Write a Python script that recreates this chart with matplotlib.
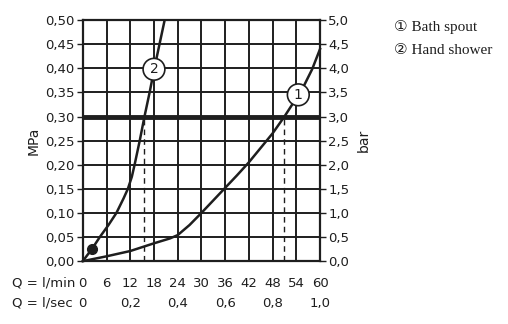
import numpy as np
import matplotlib
matplotlib.use("Agg")
import matplotlib.pyplot as plt

# flow rate (l/min) vs pressure (MPa)
bath_q = [0, 6, 12, 18, 22, 24, 27, 30, 33, 36, 39, 42, 45, 48, 51, 54, 56, 58, 60]
bath_p = [0, 0.010, 0.021, 0.037, 0.047, 0.054, 0.075, 0.100, 0.126, 0.152, 0.178, 0.205, 0.235, 0.265, 0.300, 0.338, 0.365, 0.398, 0.440]
hand_q = [0, 1.0, 2.3, 4.3, 6.5, 8.5, 10.3, 11.4, 12.4, 13.1, 14.4, 15.6, 16.9, 18.1, 19.4, 20.7]
hand_p = [0, 0.011, 0.025, 0.050, 0.075, 0.100, 0.130, 0.150, 0.175, 0.200, 0.250, 0.300, 0.350, 0.400, 0.450, 0.500]

limit_p = 0.30
bath_q_at_limit = 50.9
hand_q_at_limit = 15.6
dot_q, dot_p = 2.3, 0.025

lmin_ticks = [0, 6, 12, 18, 24, 30, 36, 42, 48, 54, 60]
lsec_ticks = [0, 0.2, 0.4, 0.6, 0.8, 1.0]
mpa_ticks = np.arange(0, 0.501, 0.05)
bar_ticks = np.arange(0, 5.01, 0.5)

legend_items = ["\u2460 Bath spout", "\u2461 Hand shower"]

col = "#1e1e1e"
plt.rcParams['font.family'] = ['DejaVu Sans']

fig = plt.figure(figsize=(5.08, 3.24), dpi=100)
ax = fig.add_axes([0.163, 0.194, 0.467, 0.744])

ax.set_xlim(0, 60)
ax.set_ylim(0, 0.5)
ax.set_xticks(lmin_ticks)
ax.set_xticklabels([str(t) for t in lmin_ticks])
ax.set_yticks(mpa_ticks)
ax.set_yticklabels([("%.2f" % t).replace('.', ',') for t in mpa_ticks])
ax.grid(True, color=col, linewidth=1.4)
ax.set_axisbelow(True)
ax.tick_params(axis='x', length=0, pad=11.5, labelsize=9.5, colors=col)
ax.tick_params(axis='y', length=4, width=1, labelsize=9.5, colors=col, pad=2)
for s in ax.spines.values():
    s.set_color(col)
    s.set_linewidth(1.6)
ax.set_ylabel("MPa", fontsize=10, color=col, labelpad=3)

# bar axis
ax2 = ax.twinx()
ax2.set_ylim(0, 5)
ax2.set_yticks(bar_ticks)
ax2.set_yticklabels([("%.1f" % t).replace('.', ',') for t in bar_ticks])
ax2.tick_params(axis='y', length=4, width=1, labelsize=9.5, colors=col, pad=2)
for s in ax2.spines.values():
    s.set_visible(False)
ax2.set_ylabel("bar", fontsize=10, color=col, labelpad=5)

# l/sec row
sec = ax.secondary_xaxis(-0.12, functions=(lambda q: q / 60.0, lambda s: s * 60.0))
sec.set_xticks(lsec_ticks)
sec.set_xticklabels(["0"] + [("%.1f" % t).replace('.', ',') for t in lsec_ticks[1:]])
sec.tick_params(length=0, labelsize=9.5, colors=col, pad=5)
sec.spines['bottom'].set_visible(False)

ax.text(-0.298, -0.091, "Q = l/min", transform=ax.transAxes, ha='left', va='center',
        fontsize=9.5, color=col)
ax.text(-0.298, -0.174, "Q = l/sec", transform=ax.transAxes, ha='left', va='center',
        fontsize=9.5, color=col)

# limit line and dashed drops
ax.axhline(limit_p, color=col, linewidth=3.5, zorder=3)
ax.plot([hand_q_at_limit, hand_q_at_limit], [0, limit_p], color=col, lw=1, ls=(0, (4, 3)), zorder=3)
ax.plot([bath_q_at_limit, bath_q_at_limit], [0, limit_p], color=col, lw=1, ls=(0, (4, 3)), zorder=3)

ax.plot(bath_q, bath_p, color=col, lw=1.8, zorder=4, clip_on=False)
ax.plot(hand_q, hand_p, color=col, lw=1.8, zorder=4)
ax.plot([dot_q], [dot_p], 'o', color=col, ms=7, zorder=5)

circ = dict(boxstyle='circle,pad=0.28', fc='white', ec=col, lw=1.2)
ax.text(18.0, 0.398, "2", ha='center', va='center', fontsize=10, color=col, bbox=circ, zorder=6)
ax.text(54.5, 0.345, "1", ha='center', va='center', fontsize=10, color=col, bbox=circ, zorder=6)

for i, item in enumerate(legend_items):
    fig.text(0.775, 0.918 - i * 0.074, item, fontsize=11, color=col,
             family=['Liberation Serif', 'DejaVu Sans'], va='center')

fig.savefig("out.png", dpi=100, facecolor='white')
